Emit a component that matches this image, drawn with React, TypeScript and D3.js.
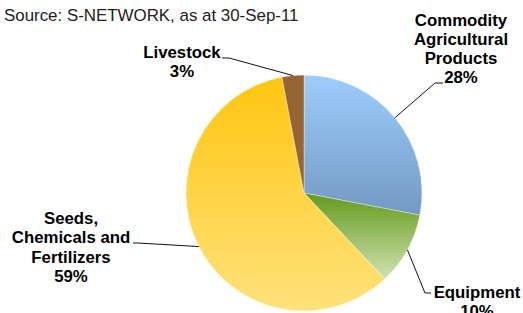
import React from "react";
import { pie, arc, PieArcDatum } from "d3";

const categories = ["Commodity Agricultural Products", "Equipment", "Seeds, Chemicals and Fertilizers", "Livestock"];
const shares = [28, 10, 59, 3];
const labelLines = [
  ["Commodity", "Agricultural", "Products", "28%"],
  ["Equipment", "10%"],
  ["Seeds,", "Chemicals and", "Fertilizers", "59%"],
  ["Livestock", "3%"],
];

// fill gradients, top colour then bottom colour
const fills = [
  ["#9dcdfc", "#7399c3"],
  ["#649a1c", "#d0e2b2"],
  ["#ffc510", "#ffe27c"],
  ["#976534", "#976534"],
];

// label anchor (centre x, first baseline) and leader elbow
const labelPos = [
  { x: 461, y: 25.5, elbow: [435, 83], end: [443, 83] },
  { x: 477, y: 298, elbow: [425, 293], end: [431, 293] },
  { x: 71, y: 224, elbow: [138, 243], end: [133, 243] },
  { x: 182, y: 58, elbow: [229, 58], end: [222, 58] },
];

const W = 523;
const H = 313;
const cx = 304;
const cy = 193;
const r = 118;

type D = { name: string; value: number; i: number };

const App = () => {
  const data: D[] = categories.map((name, i) => ({ name, value: shares[i], i }));
  const arcs = pie<D>().value((d) => d.value).sort(null)(data);
  const arcGen = arc<PieArcDatum<D>>().innerRadius(0).outerRadius(r);

  return (
    <svg width={W} height={H} style={{ position: "absolute", left: 0, top: 0 }}
      fontFamily="'Liberation Sans', Arial, sans-serif">
      <defs>
        {fills.map((f, i) => (
          <linearGradient key={i} id={`g${i}`} x1="0" y1="0" x2="0" y2="1">
            <stop offset="0" stopColor={f[0]} />
            <stop offset="1" stopColor={f[1]} />
          </linearGradient>
        ))}
      </defs>
      <text x={4} y={21} fontSize={16.9} fill="#222">Source: S-NETWORK, as at 30-Sep-11</text>
      <g transform={`translate(${cx},${cy})`}>
        {arcs.map((a) => (
          <path key={a.data.name} d={arcGen(a) || ""} fill={`url(#g${a.data.i})`}
            stroke="#ffffff" strokeOpacity={0.6} strokeWidth={0.6} />
        ))}
      </g>
      {arcs.map((a) => {
        const mid = (a.startAngle + a.endAngle) / 2;
        const sx = cx + r * Math.sin(mid);
        const sy = cy - r * Math.cos(mid);
        const p = labelPos[a.data.i];
        return (
          <polyline key={a.data.name}
            points={`${sx},${sy} ${p.elbow[0]},${p.elbow[1]} ${p.end[0]},${p.end[1]}`}
            fill="none" stroke="#111" strokeWidth={1} />
        );
      })}
      {labelLines.map((lines, i) => (
        <text key={i} x={labelPos[i].x} y={labelPos[i].y} fontSize={16.8} fontWeight="bold"
          textAnchor="middle" fill="#000">
          {lines.map((l, j) => (
            <tspan key={j} x={labelPos[i].x} dy={j === 0 ? 0 : 19.3}>{l}</tspan>
          ))}
        </text>
      ))}
    </svg>
  );
};

export default App;
